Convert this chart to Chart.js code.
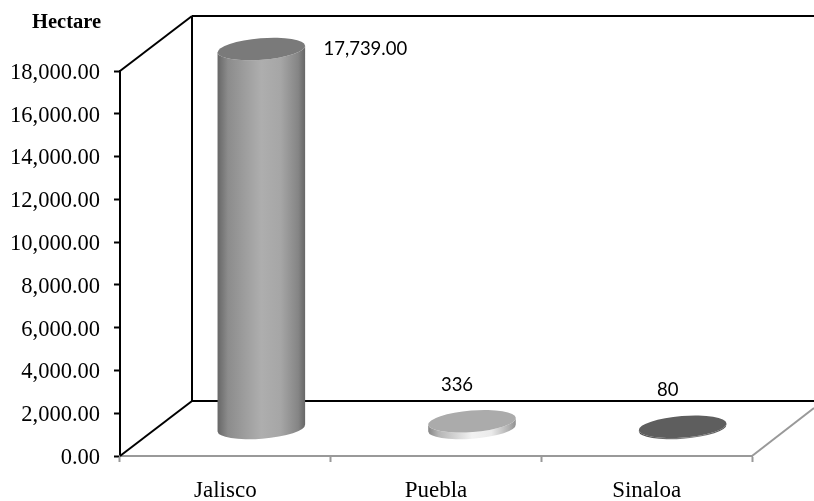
<!DOCTYPE html>
<html>
<head>
<meta charset="utf-8">
<title>Hectare</title>
<script src="https://cdn.jsdelivr.net/npm/chart.js@4"></script>
<style>
  html, body { margin: 0; padding: 0; background: #fff; }
  canvas { display: block; }
</style>
</head>
<body>
<canvas id="hectareChart" width="814" height="501"></canvas>
<script>
// Data
const categories = ['Jalisco', 'Puebla', 'Sinaloa'];
const hectares = [17739, 336, 80];
const valueLabels = ['17,739.00', '336', '80'];

// Styles for each cylinder
const sideStops = [0, 0.12, 0.5, 0.72, 0.92, 1];
const sideColors = [
  ['#666666', '#8c8c8c', '#aeaeae', '#a6a6a6', '#858585', '#666666'],
  ['#858585', '#b5b5b5', '#f2f2f2', '#ebebeb', '#b0b0b0', '#909090'],
  ['#4a4a4a', '#5a5a5a', '#808080', '#787878', '#5c5c5c', '#555555']
];
const capColors = ['#7a7a7a', '#ababab', '#5e5e5e'];
const labelOffsets = [[104, 0], [-15, -36], [-15, -37]];

// 3D look
const depthX = 72;
const depthY = 55;
const capRatio = 0.245;
const tilt = -4.5 * Math.PI / 180;

const serif = '"Liberation Serif", "Times New Roman", serif';

function line(ctx, x1, y1, x2, y2, color) {
  ctx.beginPath();
  ctx.moveTo(x1, y1);
  ctx.lineTo(x2, y2);
  ctx.strokeStyle = color;
  ctx.lineWidth = 2;
  ctx.stroke();
}

// back wall and floor, behind the cylinders
const wallsPlugin = {
  id: 'walls',
  beforeDatasetsDraw(chart) {
    const { ctx, chartArea: a, width } = chart;
    const backX = a.left + depthX;
    const backTop = a.top - depthY;
    const backBottom = a.bottom - depthY;
    line(ctx, a.left, a.top, backX, backTop, '#000');
    line(ctx, a.left, a.bottom, backX, backBottom, '#000');
    line(ctx, backX, backTop, backX, backBottom, '#000');
    line(ctx, backX, backTop, width, backTop, '#000');
    line(ctx, backX, backBottom, width, backBottom, '#000');
    line(ctx, a.right, a.bottom, width, a.bottom - 48, '#999');
  }
};

const cylinderPlugin = {
  id: 'cylinders',
  afterDatasetsDraw(chart) {
    const { ctx } = chart;
    chart.getDatasetMeta(0).data.forEach((bar, i) => {
      const cx = bar.x + depthX / 2;
      const top = bar.y - depthY / 2;
      const base = bar.base - depthY / 2;
      const rx = bar.width / 2;
      const ry = rx * capRatio;

      const grad = ctx.createLinearGradient(cx - rx, 0, cx + rx, 0);
      sideStops.forEach((stop, s) => grad.addColorStop(stop, sideColors[i][s]));

      ctx.beginPath();
      ctx.ellipse(cx, base, rx, ry, tilt, 0, Math.PI);
      ctx.ellipse(cx, top, rx, ry, tilt, Math.PI, Math.PI * 2, true);
      ctx.closePath();
      ctx.fillStyle = grad;
      ctx.fill();

      ctx.beginPath();
      ctx.ellipse(cx, top, rx, ry, tilt, 0, Math.PI * 2);
      ctx.fillStyle = capColors[i];
      ctx.fill();

      ctx.fillStyle = '#000';
      ctx.font = '18.5px Lato, "Open Sans", sans-serif';
      ctx.textAlign = 'center';
      ctx.textBaseline = 'middle';
      ctx.fillText(valueLabels[i], cx + labelOffsets[i][0], top + labelOffsets[i][1]);
    });

    ctx.fillStyle = '#000';
    ctx.font = 'bold 20.5px ' + serif;
    ctx.textAlign = 'left';
    ctx.textBaseline = 'middle';
    ctx.fillText('Hectare', 32, 23);
  }
};

const chartConfig = {
  type: 'bar',
  data: {
    labels: categories,
    datasets: [{
      label: 'Hectare',
      data: hectares,
      backgroundColor: 'rgba(0, 0, 0, 0)',
      barPercentage: 0.417,
      categoryPercentage: 1
    }]
  },
  options: {
    responsive: false,
    animation: false,
    layout: { padding: { top: 71, right: 62 } },
    plugins: {
      legend: { display: false },
      tooltip: { enabled: false }
    },
    scales: {
      y: {
        min: 0,
        max: 18000,
        afterFit(scale) { scale.width = 120; },
        border: { color: '#000', width: 2 },
        grid: { drawOnChartArea: false, tickColor: '#000', tickLength: 6, tickWidth: 2 },
        ticks: {
          stepSize: 2000,
          color: '#000',
          padding: 14,
          labelOffset: 2,
          font: { family: serif, size: 22.5 },
          callback: v => v.toLocaleString('en-US', { minimumFractionDigits: 2 })
        }
      },
      x: {
        afterFit(scale) { scale.height = 45; },
        border: { color: '#999', width: 2 },
        grid: { drawOnChartArea: false, tickColor: '#999', tickLength: 6, tickWidth: 2 },
        ticks: {
          color: '#000',
          padding: 15,
          maxRotation: 0,
          font: { family: serif, size: 23 }
        }
      }
    }
  },
  plugins: [wallsPlugin, cylinderPlugin]
};

const ctx = document.getElementById('hectareChart');
const hectareChart = new Chart(ctx, chartConfig);
</script>
</body>
</html>
